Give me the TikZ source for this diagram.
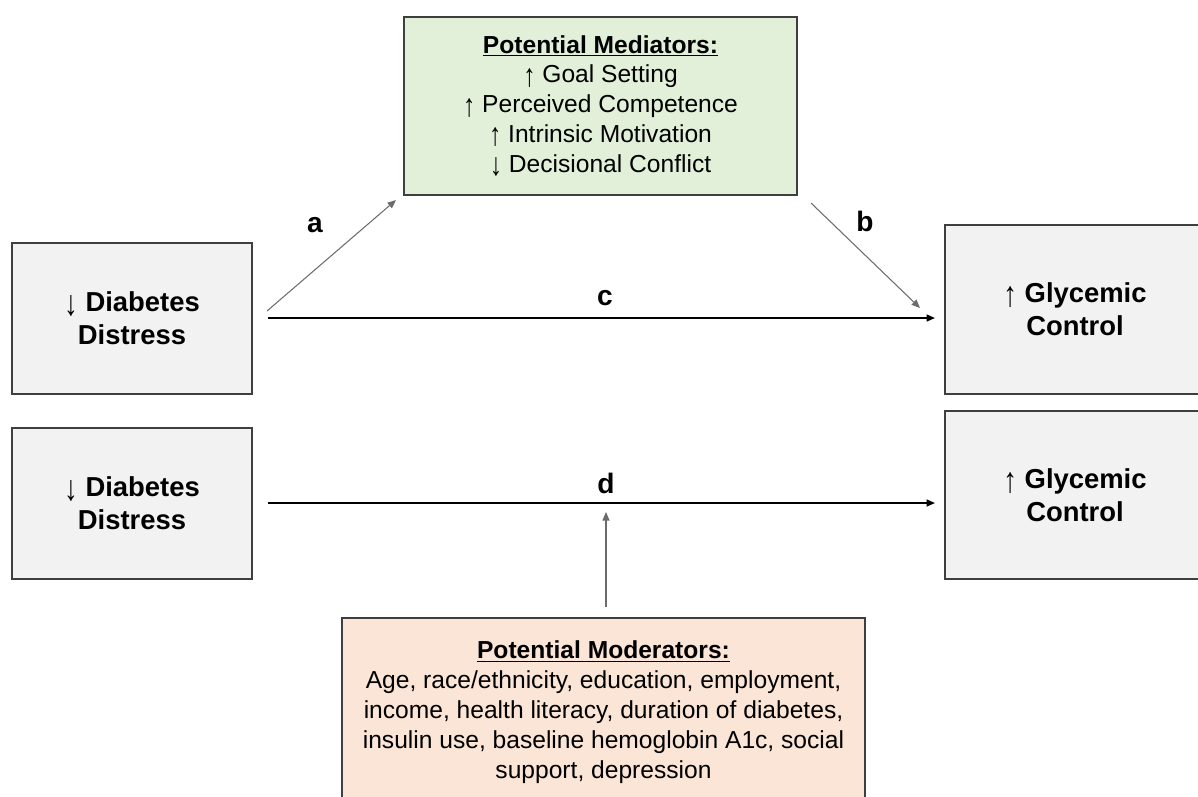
\documentclass[tikz,border=0pt]{standalone}
\usepackage{fontspec}
\setmainfont{Liberation Sans}
\usetikzlibrary{arrows.meta}
\definecolor{boxgray}{HTML}{F2F2F2}
\definecolor{medgreen}{HTML}{E2F0D9}
\definecolor{modpeach}{HTML}{FBE5D6}
\definecolor{edgegray}{HTML}{3F3F3F}
\newcommand{\uparr}{\raisebox{-0.25ex}{\scalebox{1}[1.3]{\textmd{↑}}}}
\newcommand{\dnarr}{\raisebox{-0.25ex}{\scalebox{1}[1.3]{\textmd{↓}}}}

\begin{document}
\begin{tikzpicture}[x=0.02cm,y=-0.02cm,>={Triangle[length=1.7mm,width=1.4mm]},
  box/.style={draw=edgegray,line width=0.9pt,align=center,inner sep=0pt},
  varbox/.style={box,fill=boxgray,minimum width=4.8cm,minimum height=3.02cm,
    font=\fontsize{15.6}{18.7}\selectfont\bfseries},
  outbox/.style={box,fill=boxgray,minimum width=5.2cm,
    font=\fontsize{15.6}{18.7}\selectfont\bfseries},
  listtext/.style={font=\fontsize{14}{17}\selectfont},
  path/.style={line width=0.9pt},
  sidepath/.style={gray!85!black,line width=0.6pt},
  lbl/.style={font=\fontsize{16}{19}\selectfont\bfseries,inner sep=0pt}]
\useasboundingbox (0,0) rectangle (1198,796);
\clip (0,0) rectangle (1198,796);
\node[box,listtext,fill=medgreen,minimum width=7.86cm,minimum height=3.56cm] (med) at (600.5,106)
  {\textbf{\underline{Potential Mediators:}}\\ \uparr\ Goal Setting\\ \uparr\ Perceived Competence\\
   \uparr\ Intrinsic Motivation\\ \dnarr\ Decisional Conflict};
\node[varbox] (dd1) at (132,318.5) {\dnarr\ Diabetes\\ Distress};
\node[outbox,minimum height=3.38cm] (gc1) at (1075,309.5) {\uparr\ Glycemic\\ Control};
\node[varbox] (dd2) at (132,503.5) {\dnarr\ Diabetes\\ Distress};
\node[outbox,minimum height=3.36cm] (gc2) at (1075,495) {\uparr\ Glycemic\\ Control};
\node[box,listtext,fill=modpeach,minimum width=10.46cm,minimum height=3.76cm] (mod) at (603.5,712)
  {\textbf{\underline{Potential Moderators:}}\\ Age, race/ethnicity, education, employment,\\
   income, health literacy, duration of diabetes,\\ insulin use, baseline hemoglobin A1c, social\\
   support, depression};
\coordinate (aS) at (267,311);
\coordinate (aE) at (396,200);
\coordinate (bS) at (811,203);
\coordinate (bE) at (920,308);
\coordinate (cS) at (268,318);
\coordinate (cE) at (935,318);
\coordinate (dS) at (268,503);
\coordinate (dE) at (935,503);
\coordinate (eS) at (606,607);
\coordinate (eE) at (606,512);
\draw[sidepath,->] (aS) -- (aE);
\draw[sidepath,->] (bS) -- (bE);
\draw[path,->] (cS) -- (cE);
\draw[path,->] (dS) -- (dE);
\draw[sidepath,->] (eS) -- (eE);
\node[lbl] (la) at (315,225) {a};
\node[lbl] (lb) at (865,221) {b};
\node[lbl] (lc) at (605,298) {c};
\node[lbl] (ld) at (606,483) {d};
\end{tikzpicture}
\end{document}
